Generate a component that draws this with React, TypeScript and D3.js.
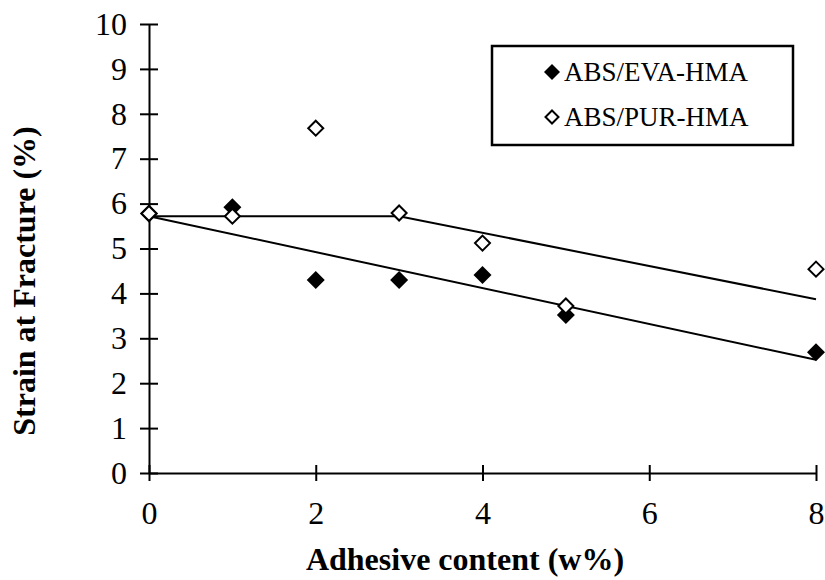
import React, { useEffect, useRef } from 'react';
import * as d3 from 'd3';

// adhesive content (w%)
const contents = [0, 1, 2, 3, 4, 5, 8];
const evaStrain = [5.78, 5.92, 4.3, 4.3, 4.41, 3.52, 2.69];
const purStrain = [5.78, 5.72, 7.68, 5.79, 5.12, 3.72, 4.54];
// trend lines
const evaTrendX = [0, 8];
const evaTrendY = [5.72, 2.52];
const purTrendX = [0, 3, 8];
const purTrendY = [5.72, 5.72, 3.87];
const xTicks = [0, 2, 4, 6, 8];
const yTicks = [0, 1, 2, 3, 4, 5, 6, 7, 8, 9, 10];
const seriesNames = ['ABS/EVA-HMA', 'ABS/PUR-HMA'];

const App = () => {
  const svgRef = useRef<SVGSVGElement>(null);

  useEffect(() => {
    const svg = d3.select(svgRef.current);
    svg.selectAll('*').remove();
    const font = '"Liberation Serif", "Times New Roman", serif';

    const x = d3.scaleLinear().domain([0, 8]).range([149, 816]);
    const y = d3.scaleLinear().domain([0, 10]).range([473, 24]);

    // axes
    const yAxis = d3.axisLeft(y).tickValues(yTicks).tickSizeInner(9).tickSizeOuter(0).tickPadding(13);
    const gy = svg.append('g').attr('transform', `translate(${x(0)},0)`).call(yAxis);
    gy.selectAll('.tick line').attr('x2', 9).attr('x1', -9);

    const xAxis = d3.axisBottom(x).tickValues(xTicks).tickSizeInner(8).tickSizeOuter(0).tickPadding(20);
    const gx = svg.append('g').attr('transform', `translate(0,${y(0)})`).call(xAxis);
    gx.selectAll('.tick line').attr('y1', -8).attr('y2', 8);

    [gx, gy].forEach(g => {
      g.select('.domain').attr('stroke', '#000').attr('stroke-width', 2);
      g.selectAll('.tick line').attr('stroke', '#000').attr('stroke-width', 2);
      g.selectAll('.tick text')
        .attr('font-family', font)
        .attr('font-size', 32)
        .attr('fill', '#000');
    });

    // trend lines
    const line = d3.line<[number, number]>().x(d => x(d[0])).y(d => y(d[1]));
    svg.append('path')
      .attr('d', line(evaTrendX.map((v, i) => [v, evaTrendY[i]]) as [number, number][]))
      .attr('fill', 'none').attr('stroke', '#000').attr('stroke-width', 2);
    svg.append('path')
      .attr('d', line(purTrendX.map((v, i) => [v, purTrendY[i]]) as [number, number][]))
      .attr('fill', 'none').attr('stroke', '#000').attr('stroke-width', 2);

    const diamond = (r: number) => `M0,${-r}L${r},0L0,${r}L${-r},0Z`;

    svg.append('g').selectAll('path')
      .data(contents)
      .enter().append('path')
      .attr('d', diamond(9))
      .attr('transform', (d, i) => `translate(${x(d)},${y(evaStrain[i])})`)
      .attr('fill', '#000');

    svg.append('g').selectAll('path')
      .data(contents)
      .enter().append('path')
      .attr('d', diamond(7.5))
      .attr('transform', (d, i) => `translate(${x(d)},${y(purStrain[i])})`)
      .attr('fill', '#fff').attr('stroke', '#000').attr('stroke-width', 2);

    // legend
    const lg = svg.append('g');
    lg.append('rect')
      .attr('x', 492).attr('y', 46).attr('width', 301).attr('height', 99)
      .attr('fill', '#fff').attr('stroke', '#000').attr('stroke-width', 2.5);
    seriesNames.forEach((name, i) => {
      const cy = 72 + i * 45;
      lg.append('path')
        .attr('d', i === 0 ? diamond(8) : diamond(6.5))
        .attr('transform', `translate(552,${cy})`)
        .attr('fill', i === 0 ? '#000' : '#fff')
        .attr('stroke', i === 0 ? 'none' : '#000')
        .attr('stroke-width', 2);
      lg.append('text')
        .attr('x', 564).attr('y', cy + 9)
        .attr('font-family', font).attr('font-size', 27)
        .text(name);
    });

    // axis titles
    svg.append('text')
      .attr('x', 465).attr('y', 570)
      .attr('text-anchor', 'middle')
      .attr('font-family', font).attr('font-size', 32).attr('font-weight', 'bold')
      .text('Adhesive content (w%)');

    svg.append('text')
      .attr('transform', 'translate(35,281) rotate(-90)')
      .attr('text-anchor', 'middle')
      .attr('font-family', font).attr('font-size', 32).attr('font-weight', 'bold')
      .text('Strain at Fracture (%)');
  }, []);

  return (
    <div style={{ position: 'absolute', left: 0, top: 0 }}>
      <svg ref={svgRef} width={825} height={580} style={{ display: 'block', background: '#fff' }}></svg>
    </div>
  );
};

export default App;
